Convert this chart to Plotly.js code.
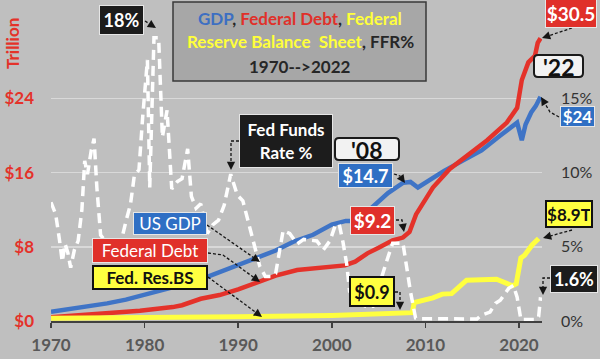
<!DOCTYPE html>
<html><head><meta charset="utf-8">
<script src="https://cdn.plot.ly/plotly-3.0.1.min.js"></script>
<style>html,body{margin:0;padding:0;background:#bfbfbf;}#chart{width:600px;height:359px;}</style>
</head><body><div id="chart"></div>
<script>
// ---------------- DATA ----------------
const gdpYears  = [1970,1972,1974,1976,1978,1980,1982,1984,1986,1988,1990,1992,1994,1996,1998,2000,2001.5,2002.7,2004,2006,2007.6,2008.4,2009.2,2010.5,2012,2014,2016,2018,2019.8,2020.3,2020.7,2021.3,2021.8,2022.3];
const gdpValues = [1.0,1.3,1.55,1.9,2.3,2.8,3.3,3.9,4.5,5.3,6.0,6.8,7.6,8.6,9.3,10.4,10.8,10.8,12.0,13.8,14.9,15.0,14.4,15.3,16.2,17.3,18.4,20.0,21.4,19.5,21.2,22.5,23.2,24.2];

const debtYears  = [1970,1973,1976,1979.5,1983,1984,1986,1988,1990,1992.6,1994,1996.3,1998,1999.8,2001.4,2002.5,2003.8,2005,2006.5,2007.6,2008.3,2009,2010,2010.8,2012.6,2014.8,2016.6,2018.7,2019.8,2020.3,2021,2021.7,2022.0,2022.3];
const debtValues = [0.4,0.6,0.8,1.1,1.5,1.7,2.4,2.8,3.4,4.4,4.9,5.5,5.7,5.8,6.0,6.4,7.3,7.9,8.7,9.0,9.6,11.5,13.2,14.4,16.4,18.1,19.5,21.4,23.0,26.0,27.9,28.6,30.0,30.5];

const fedYears  = [1970,1980,1990,2000,2007,2008.6,2008.8,2010.8,2011.8,2012.8,2014.4,2017.6,2019.3,2019.7,2020.2,2020.6,2021.4,2022.1];
const fedValues = [0.3,0.35,0.45,0.6,0.85,0.9,2.0,2.5,2.9,2.95,4.4,4.5,3.8,4.0,6.8,7.1,8.2,8.9];

const ffrYears  = [1970.0,1970.5,1970.9,1971.2,1971.5,1971.8,1972.1,1972.5,1972.9,1973.3,1973.6,1973.9,1974.3,1974.6,1974.9,1975.3,1975.8,1976.4,1977.0,1977.5,1978.0,1978.5,1978.9,1979.4,1979.8,1980.3,1980.55,1981.0,1981.5,1981.9,1982.4,1982.9,1983.5,1984.0,1984.6,1985.0,1985.5,1986.0,1986.7,1987.3,1987.9,1988.5,1989.2,1989.9,1990.5,1991.0,1991.8,1992.3,1992.9,1993.5,1994.0,1994.8,1995.5,1996.3,1997.0,1998.4,1999.1,1999.8,2000.4,2000.8,2001.2,2001.6,2001.9,2002.4,2003.0,2003.6,2004.4,2004.9,2005.5,2006.0,2006.5,2007.6,2008.0,2008.4,2008.95,2009.5,2012.0,2015.5,2016.0,2016.9,2017.5,2018.0,2018.9,2019.4,2019.8,2020.2,2021.8,2022.1,2022.3];
const ffrValues = [8.0,7.2,5.5,4.0,5.2,4.6,3.6,4.8,5.4,7.5,10.8,9.9,11.5,12.3,9.0,5.8,5.4,5.2,4.7,5.4,6.7,7.9,9.8,10.2,13.8,17.6,9.0,19.1,19.1,12.4,14.2,8.9,9.4,9.6,11.6,8.4,7.6,7.9,5.9,6.5,6.8,7.8,9.9,8.5,8.1,6.9,4.8,3.7,3.0,3.0,3.2,6.1,5.9,5.2,5.5,5.4,4.8,5.4,6.5,6.5,5.3,3.8,2.0,1.7,1.2,1.0,1.0,2.1,3.3,4.3,5.25,5.25,3.5,2.0,0.2,0.15,0.15,0.13,0.4,0.6,1.2,1.4,2.2,2.4,1.6,0.1,0.1,0.3,1.6];

const xTicks = [1970,1980,1990,2000,2010,2020];
const leftTicks = [0,8,16,24];
const leftTickText = ['$0','$8','$16','$24'];
const rightTicks = [0,5,10,15];
const rightTickText = ['0%','5%','10%','15%'];

// ---------------- STYLE / LAYOUT ----------------
const FONT = 'Lato, "Noto Sans", sans-serif';
const BLUE = '#3f74c6', RED = '#e4322a', YEL = '#ffff3f';
const L = 51, R = 542, T = 2, B = 321;           // plot area in pixels
const PX_PER_T = 9.27;                            // pixels per trillion
const yTop = (B - T) / PX_PER_T;
const px = v => (v - L) / (R - L);
const py = v => (B - v) / (B - T);

const traces = [
  {x: ffrYears, y: ffrValues, yaxis: 'y2', mode: 'lines', line: {color: '#ffffff', width: 3.5, dash: '10px,6px'}},
  {x: gdpYears, y: gdpValues, mode: 'lines', line: {color: BLUE, width: 4.5}},
  {x: debtYears, y: debtValues, mode: 'lines', line: {color: RED, width: 4.5}},
  {x: fedYears, y: fedValues, mode: 'lines', line: {color: YEL, width: 5}},
];

const annotations = [];
const shapes = [];

// title box
shapes.push({type: 'rect', xref: 'paper', yref: 'paper', x0: px(173), x1: px(426), y0: py(81), y1: py(2),
  fillcolor: '#a7a7a7', line: {color: '#3a3a3a', width: 1.5}, layer: 'above'});
const tl = (y, t) => annotations.push({xref: 'paper', yref: 'paper', x: px(300), y: py(y), xanchor: 'center', yanchor: 'middle',
  showarrow: false, text: t, font: {family: FONT, size: 17, color: '#262626', weight: 'bold'}});
tl(18, '<span style="color:#3d6fc2">GDP</span>, <span style="color:#e0302a">Federal Debt</span>, <span style="color:#ffff3a">Federal</span>');
tl(42, '<span style="color:#ffff3a">Reserve Balance  Sheet</span>, FFR%');
tl(67, '1970-->2022');

// "Trillion"
annotations.push({xref: 'paper', yref: 'paper', x: px(12), y: py(44), xanchor: 'center', yanchor: 'middle',
  textangle: -90, showarrow: false,
  text: 'Trillion', font: {family: FONT, size: 17, color: RED, weight: 'bold'}});

// callout boxes
function box(x0, y0, x1, y1, text, bg, color, size, bold, bc, bw) {
  bw = bw === undefined ? 1 : bw;
  const pad = 1;
  annotations.push({xref: 'paper', yref: 'paper', x: px((x0 + x1) / 2), y: py((y0 + y1) / 2),
    xanchor: 'center', yanchor: 'middle', showarrow: false, text: text,
    width: (x1 - x0) - 2 * (bw + pad), height: (y1 - y0) - 2 * (bw + pad),
    bgcolor: bg, bordercolor: bc || '#e6e6e6', borderwidth: bw, borderpad: pad,
    font: {family: FONT, size: size, color: color, weight: bold ? 'bold' : 'normal'}});
}
function roundBox(x0, y0, x1, y1, text) {
  const r = 4;
  const X = v => px(v), Y = v => py(v);
  const path = `M ${X(x0 + r)} ${Y(y0)} L ${X(x1 - r)} ${Y(y0)} Q ${X(x1)} ${Y(y0)} ${X(x1)} ${Y(y0 + r)} ` +
    `L ${X(x1)} ${Y(y1 - r)} Q ${X(x1)} ${Y(y1)} ${X(x1 - r)} ${Y(y1)} L ${X(x0 + r)} ${Y(y1)} ` +
    `Q ${X(x0)} ${Y(y1)} ${X(x0)} ${Y(y1 - r)} L ${X(x0)} ${Y(y0 + r)} Q ${X(x0)} ${Y(y0)} ${X(x0 + r)} ${Y(y0)} Z`;
  shapes.push({type: 'path', xref: 'paper', yref: 'paper', path: path, fillcolor: '#f2f2f2',
    line: {color: '#1a1a1a', width: 2}, layer: 'above'});
  annotations.push({xref: 'paper', yref: 'paper', x: px((x0 + x1) / 2), y: py((y0 + y1) / 2 + 1),
    xanchor: 'center', yanchor: 'middle', showarrow: false, text: text,
    font: {family: FONT, size: 23, color: '#111', weight: 'bold'}});
}
function darrow(pts) {
  const n = pts.length, tip = pts[n - 1], prev = pts[n - 2];
  const dx = prev[0] - tip[0], dy = prev[1] - tip[1], d = Math.hypot(dx, dy);
  const hl = 8, tail = [tip[0] + dx / d * hl, tip[1] + dy / d * hl];
  let path = `M ${px(pts[0][0])} ${py(pts[0][1])}`;
  for (let i = 1; i < n - 1; i++) path += ` L ${px(pts[i][0])} ${py(pts[i][1])}`;
  path += ` L ${px(tail[0])} ${py(tail[1])}`;
  shapes.push({type: 'path', xref: 'paper', yref: 'paper', path: path,
    line: {color: '#151515', width: 1.3, dash: '3px,2px'}, layer: 'above'});
  annotations.push({xref: 'paper', yref: 'paper', x: px(tip[0]), y: py(tip[1]), text: '',
    showarrow: true, arrowhead: 2, arrowsize: 1.1, arrowwidth: 1.5, arrowcolor: '#151515',
    ax: tail[0] - tip[0], ay: tail[1] - tip[1], standoff: 0});
}

box(99, 5, 144, 35, '18%', '#1c1c1c', '#fff', 18, true);
darrow([[145, 21], [156, 28]]);
box(239, 114, 333, 168, 'Fed Funds<br>Rate %', '#1c1c1c', '#fff', 17, true);
darrow([[239, 141], [231, 141], [231, 170]]);
roundBox(335, 138, 399, 160, "'08");
box(338, 163, 393, 188, '$14.7', '#2f6fc4', '#fff', 18, true);
darrow([[394, 174], [400, 176], [405, 183]]);
box(350, 206, 395, 235, '$9.2', '#e0302a', '#fff', 19, true);
darrow([[396, 220], [402, 220], [404, 232]]);
box(133, 212, 207, 235, 'US GDP', '#2f6fc4', '#fff', 17, false);
darrow([[207, 225], [260, 262]]);
box(92, 238, 208, 263, 'Federal Debt', '#e0302a', '#fff', 17, false);
darrow([[208, 253], [223, 255], [260, 282]]);
box(92, 265, 208, 290, 'Fed. Res.BS', '#ffff40', '#111', 17, true, '#111', 2);
darrow([[208, 277], [262, 317]]);
box(349, 276, 395, 307, '$0.9', '#ffff40', '#111', 18, true, '#111', 2);
darrow([[395, 292], [400, 292], [400, 310]]);
box(545, 200, 593, 228, '$8.9T', '#ffff40', '#111', 17, true, '#111', 2);
darrow([[572, 230], [543, 238]]);
box(550, 265, 598, 293, '1.6%', '#1c1c1c', '#fff', 18, true);
darrow([[550, 278], [543, 278], [543, 295]]);
box(545, -2, 597, 28, '$30.5', '#e0302a', '#fff', 19, true);
darrow([[572, 28], [542, 38]]);
roundBox(534, 55, 583, 77, "'22");
box(560, 106, 595, 127, '$24', '#2f6fc4', '#fff', 17, true);
darrow([[559, 117], [550, 112], [541, 97]]);

const layout = {
  width: 600, height: 359,
  margin: {l: L, r: 600 - R, t: T, b: 359 - B, pad: 0},
  paper_bgcolor: '#bfbfbf', plot_bgcolor: '#bfbfbf',
  showlegend: false,
  font: {family: FONT},
  xaxis: {range: [1970, 1970 + (R - L) / 9.36], tickvals: xTicks, ticks: 'outside', ticklen: 5, tickwidth: 1.5,
    tickcolor: '#404040', showline: true, linecolor: '#404040', linewidth: 1.5, showgrid: false, zeroline: false,
    tickfont: {family: FONT, size: 17, color: '#595959', weight: 'bold'}, ticklabelstandoff: 3},
  yaxis: {range: [0, yTop], tickmode: 'array', tickvals: leftTicks, ticktext: leftTickText, showgrid: true, gridcolor: '#d9d9d9', gridwidth: 1.5,
    zeroline: false, showline: false, tickfont: {family: FONT, size: 17, color: RED, weight: 'bold'}, ticklabelstandoff: 16},
  yaxis2: {range: [0, yTop / 1.6], overlaying: 'y', side: 'right', tickmode: 'array', tickvals: rightTicks, ticktext: rightTickText,
    showgrid: false, zeroline: false, showline: false, tickfont: {family: FONT, size: 16, color: '#333333'}, ticklabelstandoff: 18},
  annotations: annotations,
  shapes: shapes,
};
Plotly.newPlot('chart', traces, layout, {staticPlot: true, displayModeBar: false});
</script>
</body></html>
